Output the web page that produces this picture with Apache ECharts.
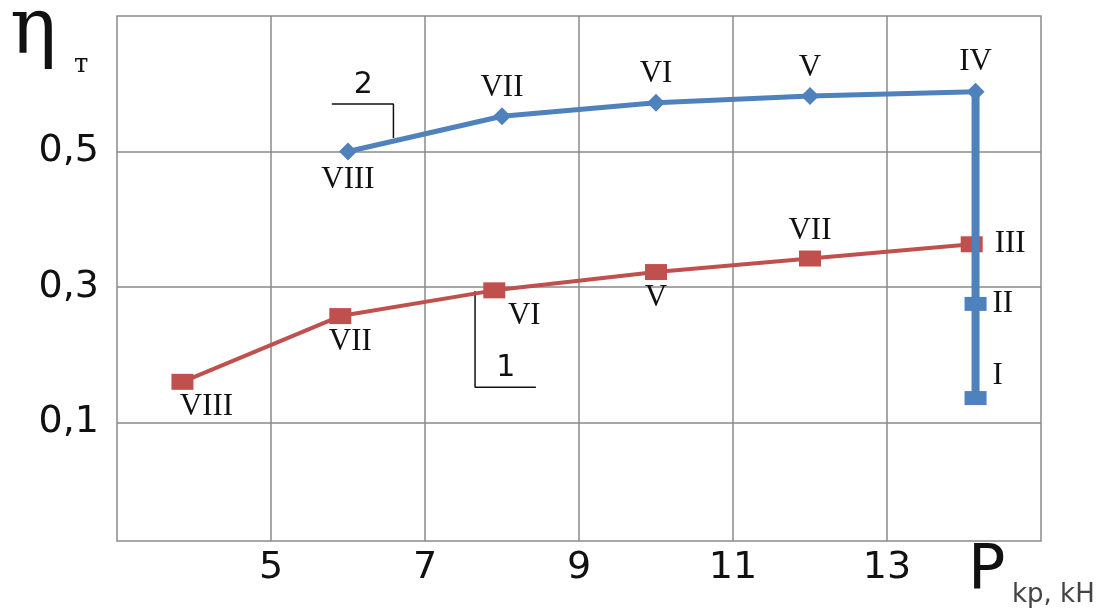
<!DOCTYPE html>
<html>
<head>
<meta charset="utf-8">
<script src="https://cdn.jsdelivr.net/npm/echarts@6/dist/echarts.min.js"></script>
<style>
  html, body { margin: 0; padding: 0; background: #fff; }
  #chart { width: 1105px; height: 610px; }
</style>
</head>
<body>
<div id="chart"></div>
<script>
// curve 2 (upper, blue)
const curve2X = [6, 8, 10, 12, 14.15];
const curve2Y = [0.5, 0.552, 0.572, 0.582, 0.588];
const curve2Names = ['VIII', 'VII', 'VI', 'V', 'IV'];
// curve 2, vertical part
const drop2X = [14.15, 14.15, 14.15];
const drop2Y = [0.588, 0.275, 0.136];
const drop2Names = ['', 'II', 'I'];
// curve 1 (lower, red)
const curve1X = [3.85, 5.9, 7.9, 10, 12, 14.1];
const curve1Y = [0.16, 0.257, 0.295, 0.322, 0.342, 0.363];
const curve1Names = ['VIII', 'VII', 'VI', 'V', 'VII', 'III'];

const xTicks = [5, 7, 9, 11, 13];
const yTicks = [0.1, 0.3, 0.5];

// leader lines for curve numbers
const leader2 = [[5.79, 0.57], [6.2, 0.57], [6.59, 0.57], [6.59, 0.52]];
const leader1 = [[7.65, 0.294], [7.65, 0.152], [8.05, 0.152], [8.44, 0.152]];

const serif = 'Liberation Serif';
const sans = 'DejaVu Sans';
const gridColor = '#8a8a8a';

// where each point's label sits
const curve2Layout = [
  { position: 'bottom', distance: 4 },
  { position: 'top', distance: 4 },
  { position: 'top', distance: 4 },
  { position: 'top', distance: 4 },
  { position: 'top', distance: 6 }
];
const drop2Layout = [
  {},
  { position: 'right', distance: 6 },
  { position: 'right', distance: 6, offset: [0, -22] }
];
const curve1Layout = [
  { position: 'bottom', distance: 2, offset: [24, 0] },
  { position: 'bottom', distance: 2, offset: [10, 0] },
  { position: 'bottom', distance: 2, offset: [30, 0] },
  { position: 'bottom', distance: 2 },
  { position: 'top', distance: 4 },
  { position: 'right', distance: 12 }
];

function points(xs, ys, names, layout) {
  return xs.map((x, i) => ({
    value: [x, ys[i]],
    label: Object.assign({ show: !!names[i], formatter: names[i] }, layout[i])
  }));
}

const labelStyle = {
  color: '#111',
  fontFamily: serif,
  fontSize: 31
};

const myChart = echarts.init(document.getElementById('chart'));

const drop2Data = points(drop2X, drop2Y, drop2Names, drop2Layout);
drop2Data[0].symbol = 'none';

function leaderSeries(name, pts, textIndex, text) {
  return {
    name: name,
    type: 'line',
    silent: true,
    symbol: 'circle',
    symbolSize: 0,
    data: pts.map((p, i) => ({
      value: p,
      label: { show: i === textIndex, formatter: text, position: 'top', distance: 4,
        color: '#111', fontFamily: sans, fontSize: 30 }
    })),
    lineStyle: { color: '#111', width: 1.5 },
    z: 2
  };
}

myChart.setOption({
  animation: false,
  grid: {
    left: 117,
    right: 64,
    top: 16,
    bottom: 69,
    show: true,
    borderColor: gridColor,
    borderWidth: 1.5
  },
  xAxis: {
    type: 'value',
    min: 3,
    max: 15,
    axisLine: { show: false },
    axisTick: { show: false, customValues: xTicks },
    axisLabel: {
      customValues: xTicks,
      color: '#111',
      fontFamily: sans,
      fontSize: 38,
      margin: 8
    },
    splitLine: { show: true, lineStyle: { color: gridColor, width: 1.5 } }
  },
  yAxis: {
    type: 'value',
    min: -0.075,
    max: 0.7,
    axisLine: { show: false },
    axisTick: { show: false, customValues: yTicks },
    axisLabel: {
      customValues: yTicks,
      color: '#111',
      fontFamily: sans,
      fontSize: 38,
      margin: 18,
      formatter: (v) => String(v).replace('.', ',')
    },
    splitLine: { show: true, lineStyle: { color: gridColor, width: 1.5 } }
  },
  graphic: [
    { type: 'text', left: 10, top: -6,
      style: { text: 'η', fontFamily: 'DejaVu Serif', fontSize: 78, fill: '#111' } },
    { type: 'text', left: 74, top: 52,
      style: { text: 'т', fontFamily: 'DejaVu Serif', fontSize: 26, fill: '#111' } },
    { type: 'text', left: 968, top: 541,
      style: { text: 'P', fontFamily: sans, fontSize: 62, fill: '#111' } },
    { type: 'text', left: 1012, top: 582,
      style: { text: 'kp, kH', fontFamily: sans, fontSize: 26, fill: '#444' } }
  ],
  series: [
    {
      name: '1',
      type: 'line',
      data: points(curve1X, curve1Y, curve1Names, curve1Layout),
      symbol: 'rect',
      symbolSize: [22, 16],
      itemStyle: { color: '#C0504D' },
      lineStyle: { color: '#C0504D', width: 4 },
      label: labelStyle,
      z: 3
    },
    {
      name: '2',
      type: 'line',
      data: points(curve2X, curve2Y, curve2Names, curve2Layout),
      symbol: 'diamond',
      symbolSize: 18,
      itemStyle: { color: '#4F81BD' },
      lineStyle: { color: '#4F81BD', width: 5 },
      label: labelStyle,
      z: 3
    },
    {
      name: '2 (I-IV)',
      type: 'line',
      data: drop2Data,
      symbol: 'rect',
      symbolSize: [22, 14],
      itemStyle: { color: '#4F81BD' },
      lineStyle: { color: '#4F81BD', width: 8 },
      label: labelStyle,
      z: 4
    },
    leaderSeries('leader 2', leader2, 1, '2'),
    leaderSeries('leader 1', leader1, 2, '1')
  ]
});
</script>
</body>
</html>
